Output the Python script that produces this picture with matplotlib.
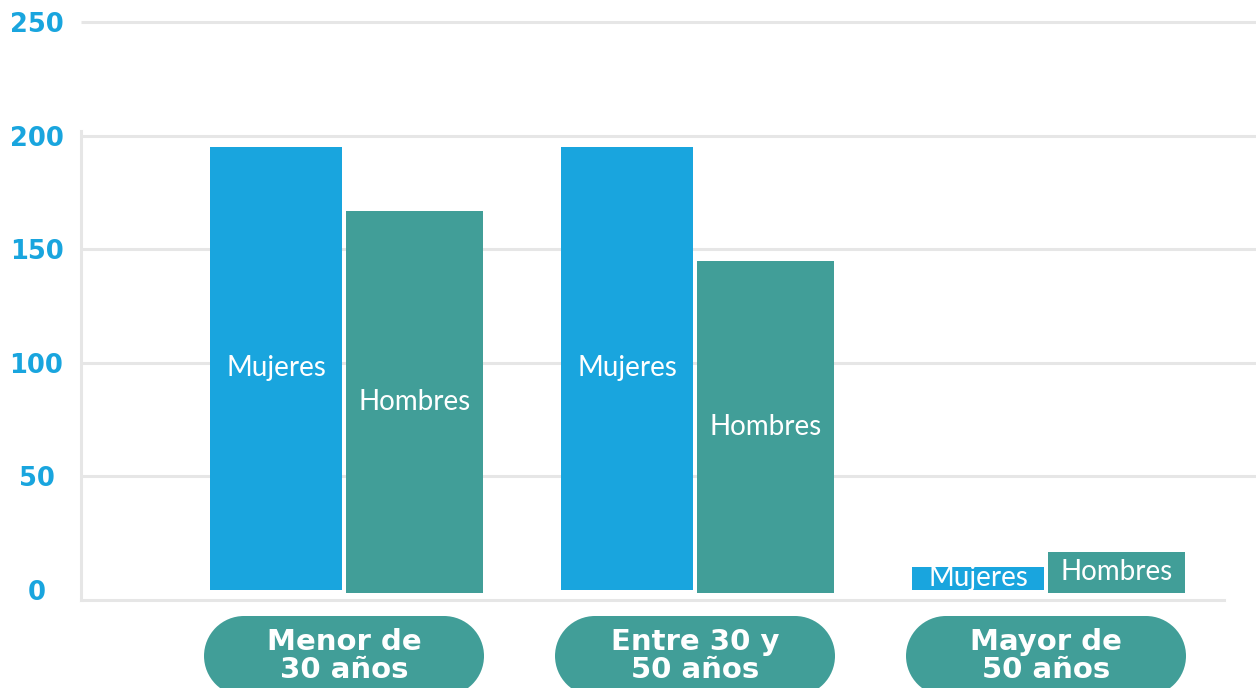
import matplotlib.pyplot as plt
from matplotlib.patches import Rectangle, Circle
from matplotlib.transforms import IdentityTransform
import numpy as np

categories = ["Menor de\n30 años", "Entre 30 y\n50 años", "Mayor de\n50 años"]
mujeres = [195, 195, 10]
hombres = [168, 146, 18]
yticks = [0, 50, 100, 150, 200, 250]

blue = "#19a5de"
teal = "#419e98"
grey = "#e6e6e6"

fig = plt.figure(figsize=(12.56, 6.88), dpi=100, facecolor="white")
ax = fig.add_axes([81 / 1256, 88 / 688, 1175 / 1256, 590 / 688])

x = np.arange(len(categories))
ax.set_xlim(-0.7536, 2.594)
ax.set_ylim(-4.6, 255.3)

# gridlines (no line at zero)
ax.hlines(yticks[1:], -0.7536, 2.594, color=grey, lw=2.2, zorder=0)

bm = ax.bar(x - 0.197, mujeres, width=0.376, color=blue, zorder=2)
bh = ax.bar(x + 0.197, hombres, width=0.39, bottom=-1.3, color=teal, zorder=2)

for rect in bm:
    ax.text(rect.get_x() + rect.get_width() / 2, rect.get_height() / 2, "Mujeres",
            ha="center", va="center", color="white", fontsize=20,
            family=["Lato", "DejaVu Sans"], zorder=3)
for rect in bh:
    ax.text(rect.get_x() + rect.get_width() / 2, rect.get_y() + rect.get_height() / 2,
            "Hombres", ha="center", va="center", color="white", fontsize=20,
            family=["Lato", "DejaVu Sans"], zorder=3)

for s in ["top", "right"]:
    ax.spines[s].set_visible(False)
ax.spines["left"].set_color(grey)
ax.spines["left"].set_linewidth(2.2)
ax.spines["left"].set_bounds(-4.6, 202)
ax.spines["bottom"].set_color(grey)
ax.spines["bottom"].set_linewidth(2.2)
ax.spines["bottom"].set_bounds(-0.7536, 2.503)

ax.set_xticks([])
ax.set_yticks(yticks)
ax.set_yticklabels([str(v) for v in yticks])
ax.tick_params(axis="y", length=0, pad=32, labelsize=18.5, labelcolor=blue)
for lab in ax.get_yticklabels():
    lab.set_fontweight("heavy")
    lab.set_horizontalalignment("center")

# pill shaped category labels (stadium: rectangle + two half circles)
fig.canvas.draw()
r = 40
cy = 688 - 656
for i, cat in enumerate(categories):
    cx = ax.transData.transform((x[i], 0))[0] - 1.5
    half = 140 - r
    shapes = [Rectangle((cx - half, cy - r), 2 * half, 2 * r),
              Circle((cx - half, cy), r), Circle((cx + half, cy), r)]
    for p in shapes:
        p.set_transform(IdentityTransform())
        p.set_facecolor(teal)
        p.set_edgecolor("none")
        fig.patches.append(p)
    fig.text(cx / 1256, 32 / 688, cat, ha="center", va="center", color="white",
             fontsize=21, fontweight="bold", linespacing=1.02)

fig.savefig("out.png", dpi=100, facecolor="white")
